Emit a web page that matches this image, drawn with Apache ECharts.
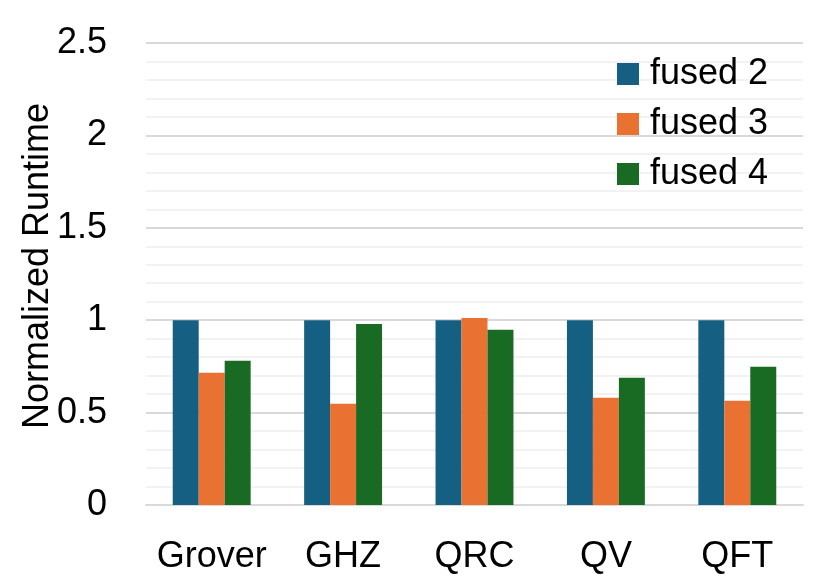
<!DOCTYPE html>
<html>
<head>
<meta charset="utf-8">
<script src="https://cdn.jsdelivr.net/npm/echarts@6/dist/echarts.min.js"></script>
<style>html,body{margin:0;padding:0;background:#fff}#c{width:825px;height:586px}</style>
</head>
<body>
<div id="c"></div>
<script>
var categories = ['Grover', 'GHZ', 'QRC', 'QV', 'QFT'];
var fused2 = [1.0, 1.0, 1.0, 1.0, 1.0];
var fused3 = [0.715, 0.548, 1.012, 0.58, 0.564];
var fused4 = [0.78, 0.98, 0.948, 0.688, 0.748];
var seriesNames = ['fused 2', 'fused 3', 'fused 4'];
var colors = ['#156082', '#E97132', '#196B24'];

var FONT = '"Liberation Sans", Arial, sans-serif';
var chart = echarts.init(document.getElementById('c'), null, {renderer: 'canvas'});
var data = [fused2, fused3, fused4];
chart.setOption({
  animation: false,
  backgroundColor: '#ffffff',
  grid: {left: 146, right: 22, top: 43, bottom: 81, containLabel: false},
  legend: {
    orient: 'vertical', left: 612, top: 51,
    itemWidth: 22, itemHeight: 22, itemGap: 14,
    icon: 'rect',
    textStyle: {fontFamily: FONT, fontSize: 36, color: '#000', padding: [0, 0, 0, 6]},
    data: seriesNames
  },
  xAxis: {
    type: 'category', data: categories,
    axisLine: {show: true, lineStyle: {color: '#d9d9d9', width: 2}},
    axisTick: {show: false},
    axisLabel: {fontFamily: FONT, fontSize: 36, color: '#000', margin: 34, interval: 0}
  },
  yAxis: {
    type: 'value', min: 0, max: 2.5, interval: 0.5,
    name: 'Normalized Runtime', nameLocation: 'middle', nameGap: 90,
    nameMoveOverlap: false,
    nameTextStyle: {fontFamily: FONT, fontSize: 36, color: '#000', padding: [0, 0, 0, 16]},
    axisLine: {show: false}, axisTick: {show: false},
    axisLabel: {fontFamily: FONT, fontSize: 36, color: '#000', margin: 39},
    splitLine: {show: true, lineStyle: {color: '#d9d9d9', width: 2}},
    minorTick: {show: false, splitNumber: 5},
    minorSplitLine: {show: true, lineStyle: {color: '#f2f2f2', width: 2}}
  },
  series: seriesNames.map(function (n, i) {
    return {
      name: n, type: 'bar', data: data[i],
      barGap: '0%', barCategoryGap: '40.7%',
      itemStyle: {color: colors[i]}
    };
  })
});
</script>
</body>
</html>
